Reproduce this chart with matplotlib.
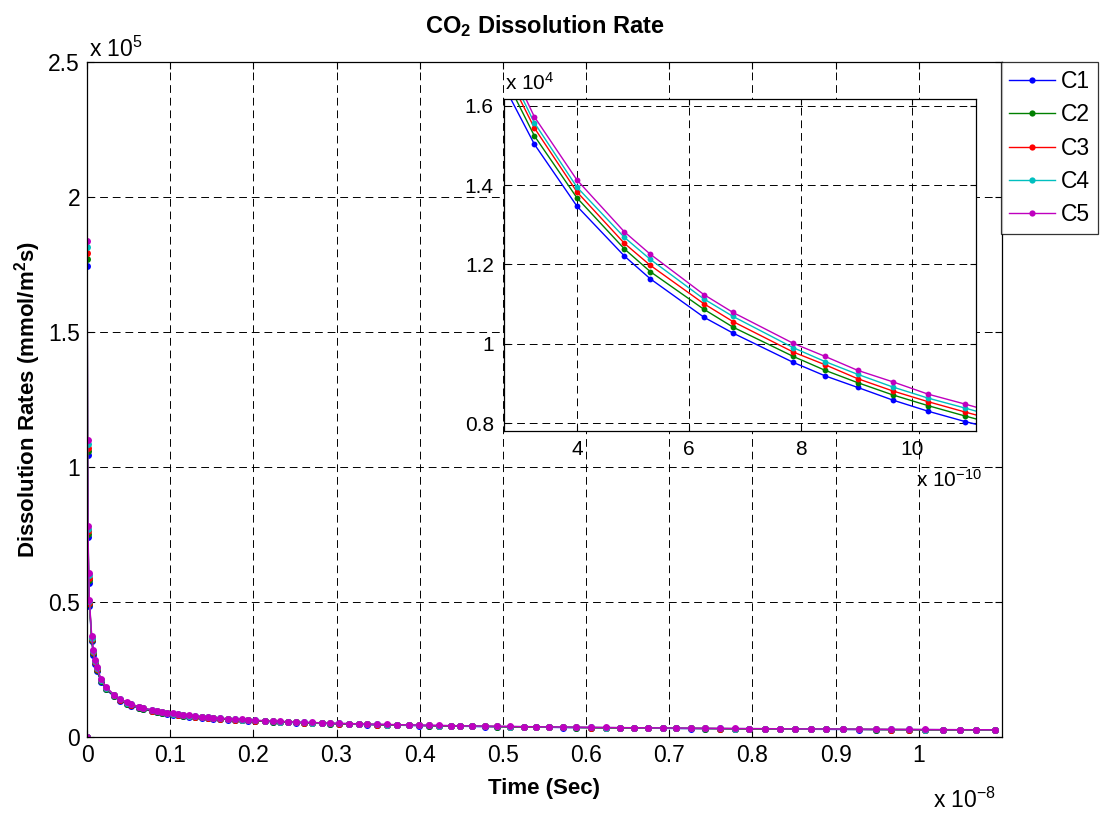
import numpy as np
import matplotlib
matplotlib.use('Agg')
import matplotlib.pyplot as plt
from matplotlib.ticker import FixedLocator, FuncFormatter

plt.rcParams['font.family'] = ['Liberation Sans', 'DejaVu Sans']
plt.rcParams['mathtext.fontset'] = 'custom'
plt.rcParams['mathtext.rm'] = 'Liberation Sans'
plt.rcParams['mathtext.bf'] = 'Liberation Sans:bold'
plt.rcParams['mathtext.it'] = 'Liberation Sans:italic'

############# data ###############################################################

# time in units of 1e-10 s
time_e10 = [0, 0.0005, 0.022, 0.062, 0.12, 0.2, 0.29, 0.57, 0.76, 0.96, 1.17, 1.69, 2.29,
            3.24, 4.0, 4.85, 5.31, 6.27, 6.79, 7.87, 8.44, 9.02, 9.65, 10.28, 10.94,
            11.6, 12.3, 13.0, 13.8, 14.5, 15.2, 16.0, 17.0, 17.8, 18.6,
            19.4, 20.2, 21.4, 22.3, 23.2, 24.2, 25.1, 26.1, 27.1, 28.2,
            29.2, 30.3, 31.5, 32.7, 33.7, 34.9, 36.1, 37.3, 38.7, 39.9,
            41.1, 42.3, 43.7, 44.9, 46.3, 47.8, 49.3, 50.9, 52.5, 54.0,
            55.6, 57.2, 58.8, 60.6, 62.4, 64.1, 65.8, 67.5, 69.2, 70.8,
            72.6, 74.3, 76.1, 77.9, 79.6, 81.5, 83.3, 85.1, 87.0, 88.9,
            90.9, 92.8, 94.8, 96.7, 98.8, 100.7, 102.9, 104.9, 106.9, 109.1]

# dissolution rates (mmol/m^2 s)
c1 = [0, 1190000, 174400, 104400, 74200, 57100, 48600, 35400, 30500, 27150, 24600, 20500, 17600,
      15030, 13470, 12210, 11640, 10670, 10270, 9530, 9190, 8900, 8580, 8300, 8040,
      7810, 7590, 7380, 7160, 6990, 6820, 6650, 6450, 6300, 6170,
      6040, 5920, 5750, 5630, 5520, 5410, 5310, 5210, 5110, 5010,
      4920, 4830, 4740, 4650, 4580, 4500, 4430, 4360, 4280, 4210,
      4150, 4090, 4020, 3970, 3910, 3850, 3790, 3730, 3670, 3620,
      3570, 3520, 3470, 3420, 3370, 3320, 3280, 3240, 3200, 3160,
      3120, 3090, 3050, 3010, 2980, 2950, 2910, 2880, 2850, 2820,
      2790, 2760, 2730, 2700, 2680, 2650, 2620, 2600, 2570, 2550]
c2 = [0, 1210000, 176900, 105800, 75200, 58000, 49100, 35900, 31000, 27600, 25000, 20800, 17900,
      15240, 13680, 12390, 11820, 10870, 10420, 9680, 9330, 9020, 8710, 8440, 8180,
      7930, 7700, 7490, 7270, 7090, 6920, 6750, 6550, 6390, 6260,
      6130, 6010, 5840, 5710, 5600, 5490, 5390, 5290, 5190, 5090,
      4990, 4900, 4810, 4720, 4650, 4570, 4500, 4430, 4340, 4270,
      4210, 4150, 4080, 4030, 3970, 3910, 3850, 3790, 3730, 3670,
      3620, 3570, 3520, 3470, 3420, 3370, 3330, 3290, 3250, 3210,
      3170, 3140, 3100, 3060, 3020, 2990, 2950, 2920, 2890, 2860,
      2830, 2800, 2770, 2740, 2720, 2690, 2660, 2640, 2610, 2590]
c3 = [0, 1230000, 179400, 107200, 76200, 59000, 49700, 36400, 31400, 27950, 25300, 21100, 18100,
      15440, 13830, 12530, 11980, 11010, 10560, 9790, 9470, 9120, 8810, 8540, 8280,
      8030, 7800, 7590, 7360, 7190, 7010, 6840, 6630, 6480, 6340,
      6210, 6090, 5910, 5790, 5670, 5560, 5460, 5360, 5250, 5150,
      5060, 4970, 4870, 4780, 4710, 4630, 4550, 4480, 4400, 4330,
      4270, 4200, 4130, 4080, 4020, 3960, 3900, 3830, 3770, 3720,
      3670, 3620, 3570, 3520, 3460, 3410, 3370, 3330, 3290, 3250,
      3210, 3180, 3140, 3090, 3060, 3030, 2990, 2960, 2930, 2900,
      2870, 2840, 2810, 2780, 2760, 2720, 2690, 2670, 2640, 2620]
c4 = [0, 1240000, 181600, 108600, 77100, 60000, 50200, 36800, 31800, 28300, 25600, 21300, 18300,
      15570, 13950, 12680, 12130, 11130, 10690, 9900, 9550, 9230, 8910, 8630, 8380,
      8120, 7890, 7680, 7450, 7270, 7090, 6920, 6710, 6550, 6420,
      6280, 6160, 5980, 5860, 5740, 5630, 5520, 5420, 5310, 5210,
      5120, 5020, 4930, 4840, 4760, 4680, 4610, 4530, 4450, 4380,
      4320, 4250, 4180, 4130, 4070, 4000, 3940, 3880, 3820, 3760,
      3710, 3660, 3610, 3560, 3500, 3450, 3410, 3370, 3330, 3290,
      3240, 3210, 3170, 3130, 3100, 3070, 3030, 3000, 2960, 2930,
      2900, 2870, 2840, 2810, 2790, 2760, 2720, 2700, 2670, 2650]
c5 = [0, 1250000, 183700, 110000, 78100, 60900, 50700, 37300, 32200, 28650, 25900, 21600, 18550,
      15720, 14130, 12820, 12260, 11240, 10790, 10010, 9680, 9330, 9040, 8730, 8480,
      8220, 7990, 7770, 7540, 7360, 7180, 7000, 6790, 6630, 6490,
      6360, 6230, 6050, 5930, 5810, 5690, 5590, 5480, 5380, 5270,
      5180, 5080, 4990, 4890, 4820, 4740, 4660, 4590, 4500, 4430,
      4370, 4300, 4230, 4180, 4120, 4050, 3990, 3930, 3860, 3810,
      3760, 3700, 3650, 3600, 3550, 3490, 3450, 3410, 3370, 3330,
      3280, 3250, 3210, 3170, 3140, 3110, 3060, 3030, 3000, 2970,
      2940, 2910, 2870, 2840, 2820, 2790, 2760, 2740, 2710, 2680]

names = ['C1', 'C2', 'C3', 'C4', 'C5']
colors = ['#0000ff', '#008000', '#ff0000', '#00bfbf', '#bf00bf']
series = [c1, c2, c3, c4, c5]

main_xticks = [0, 0.1, 0.2, 0.3, 0.4, 0.5, 0.6, 0.7, 0.8, 0.9, 1.0]   # x 1e-8
main_yticks = [0, 0.5, 1, 1.5, 2, 2.5]                                # x 1e5
inset_xticks = [4, 6, 8, 10]                                          # x 1e-10
inset_yticks = [0.8, 1.0, 1.2, 1.4, 1.6]                              # x 1e4

t = np.array(time_e10) * 1e-10

############# helpers ############################################################

def style_axes(ax, fs, ticklen, pad):
    ax.tick_params(direction='in', top=True, right=True, length=ticklen, width=0.8,
                   labelsize=fs, pad=pad)
    for s in ax.spines.values():
        s.set_linewidth(0.9)
        s.set_color('k')
    ax.grid(True, color='k', linestyle=(0, (8, 5)), linewidth=0.7)
    ax.set_axisbelow(True)

def scaled(factor):
    return FuncFormatter(lambda v, p: '%g' % round(v / factor, 6))

############# main figure ########################################################

fig = plt.figure(figsize=(11, 8.16), dpi=100)
ax = fig.add_axes([0.0791, 0.0968, 0.8318, 0.8272])

for vals, name, col in zip(series, names, colors):
    ax.plot(t, vals, '-', color=col, lw=1.0, marker='o', ms=5, mew=0, label=name)

ax.set_xlim(0, 1.1e-8)
ax.set_ylim(0, 2.5e5)
ax.xaxis.set_major_locator(FixedLocator([v * 1e-8 for v in main_xticks]))
ax.yaxis.set_major_locator(FixedLocator([v * 1e5 for v in main_yticks]))
ax.xaxis.set_major_formatter(scaled(1e-8))
ax.yaxis.set_major_formatter(scaled(1e5))
style_axes(ax, 16.5, 5, 5)

ax.set_title('CO$_\\mathbf{2}$ Dissolution Rate', fontsize=17, fontweight='bold', pad=21)
ax.set_xlabel('Time (Sec)', fontsize=16, fontweight='bold', labelpad=8)
ax.set_ylabel('Dissolution Rates (mmol/m$^\\mathbf{2}$s)', fontsize=16, fontweight='bold',
              labelpad=4)

fig.text(89 / 1100, 1 - 57 / 816, 'x 10$^{5}$', fontsize=16.5, va='baseline')
fig.text(933 / 1100, 1 - 808 / 816, 'x 10$^{-8}$', fontsize=16.5, va='baseline')

leg = ax.legend(loc='upper left', bbox_to_anchor=(1001 / 1100, 1 - 62 / 816),
                bbox_transform=fig.transFigure, borderaxespad=0, fontsize=16.5,
                frameon=True, fancybox=False, handlelength=2.0, handletextpad=0.26,
                labelspacing=0.45, borderpad=0.35, markerscale=0.9)
leg.get_frame().set_edgecolor('k')
leg.get_frame().set_linewidth(0.9)

############# inset ##############################################################

axi = fig.add_axes([0.4578, 0.4722, 0.4292, 0.4061])
for vals, col in zip(series, colors):
    axi.plot(t, vals, '-', color=col, lw=1.0, marker='o', ms=4.2, mew=0)

axi.set_xlim(2.69e-10, 11.13e-10)
axi.set_ylim(0.781e4, 1.616e4)
axi.xaxis.set_major_locator(FixedLocator([v * 1e-10 for v in inset_xticks]))
axi.yaxis.set_major_locator(FixedLocator([v * 1e4 for v in inset_yticks]))
axi.xaxis.set_major_formatter(scaled(1e-10))
axi.yaxis.set_major_formatter(scaled(1e4))
style_axes(axi, 15, 4, 7)
axi.set_facecolor('white')

fig.text(505 / 1100, 1 - 90 / 816, 'x 10$^{4}$', fontsize=15, va='baseline')
fig.text(916 / 1100, 1 - 487 / 816, 'x 10$^{-10}$', fontsize=15, va='baseline')

fig.savefig('out.png', dpi=100)
